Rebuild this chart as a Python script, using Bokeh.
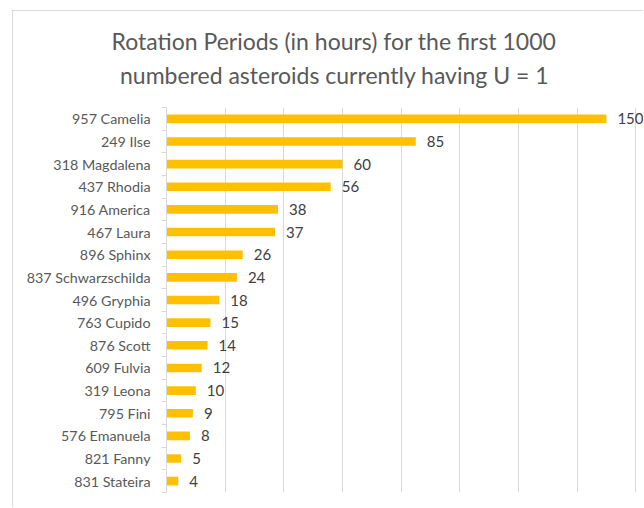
from bokeh.plotting import figure
from bokeh.models import Range1d, FixedTicker, Title, ColumnDataSource
from bokeh.core.properties import value
from bokeh.embed import file_html
from bokeh.resources import INLINE

names = ["957 Camelia", "249 Ilse", "318 Magdalena", "437 Rhodia", "916 America",
         "467 Laura", "896 Sphinx", "837 Schwarzschilda", "496 Gryphia", "763 Cupido",
         "876 Scott", "609 Fulvia", "319 Leona", "795 Fini", "576 Emanuela",
         "821 Fanny", "831 Stateira"]
periods = [150, 85, 60, 56, 38, 37, 26, 24, 18, 15, 14, 12, 10, 9, 8, 5, 4]
title_lines = ["Rotation Periods (in hours) for the first 1000",
               "numbered asteroids currently having U = 1"]

n = len(names)
ypos = [n - 1 - i for i in range(n)]
src = ColumnDataSource(dict(name=names, period=periods, y=ypos,
                            lab=[str(v) for v in periods]))

FONT = "Lato"

p = figure(width=631, height=497, output_backend="svg", toolbar_location=None,
           x_range=Range1d(0, 163), y_range=Range1d(-0.5, n - 0.5),
           min_border_left=153, min_border_top=96, min_border_bottom=16,
           min_border_right=0)
p.styles = {"margin-left": "12px", "margin-top": "10px",
            "border-left": "1px solid #d9d9d9", "border-top": "1px solid #d9d9d9"}
p.outline_line_color = None
p.background_fill_color = "white"

p.hbar(y="y", right="period", left=0, height=0.38, source=src,
       fill_color="#FFC000", line_color=None)
p.text(x="period", y="y", text="lab", source=src, x_offset=11,
       text_baseline="middle", text_align="left",
       text_font=value(FONT), text_font_size="15px", text_color="#404040")

p.xaxis.visible = False
p.xgrid.ticker = FixedTicker(ticks=list(range(20, 161, 20)))
p.xgrid.grid_line_color = "#d9d9d9"
p.ygrid.grid_line_color = None

ax = p.yaxis[0]
ax.ticker = FixedTicker(ticks=ypos, minor_ticks=[k + 0.5 for k in range(-1, n)])
ax.major_label_overrides = {y: nm for y, nm in zip(ypos, names)}
ax.major_tick_out = 0
ax.major_tick_in = 0
ax.minor_tick_out = 5
ax.minor_tick_in = 0
ax.minor_tick_line_color = "#d9d9d9"
ax.axis_line_color = "#d9d9d9"
ax.major_label_text_font = FONT
ax.major_label_text_font_size = "14.3px"
ax.major_label_text_color = "#595959"
ax.major_label_standoff = 11

# line 2 nearest to the plot, then line 1 above it
p.add_layout(Title(text=title_lines[1], align="left", offset=-46.5, standoff=38,
                   text_font=FONT, text_font_size="23px", text_font_style="normal",
                   text_color="#595959"), "above")
p.add_layout(Title(text=title_lines[0], align="left", offset=-55, standoff=-31,
                   text_font=FONT, text_font_size="23px", text_font_style="normal",
                   text_color="#595959"), "above")

open("out.html", "w").write(file_html(p, INLINE))
